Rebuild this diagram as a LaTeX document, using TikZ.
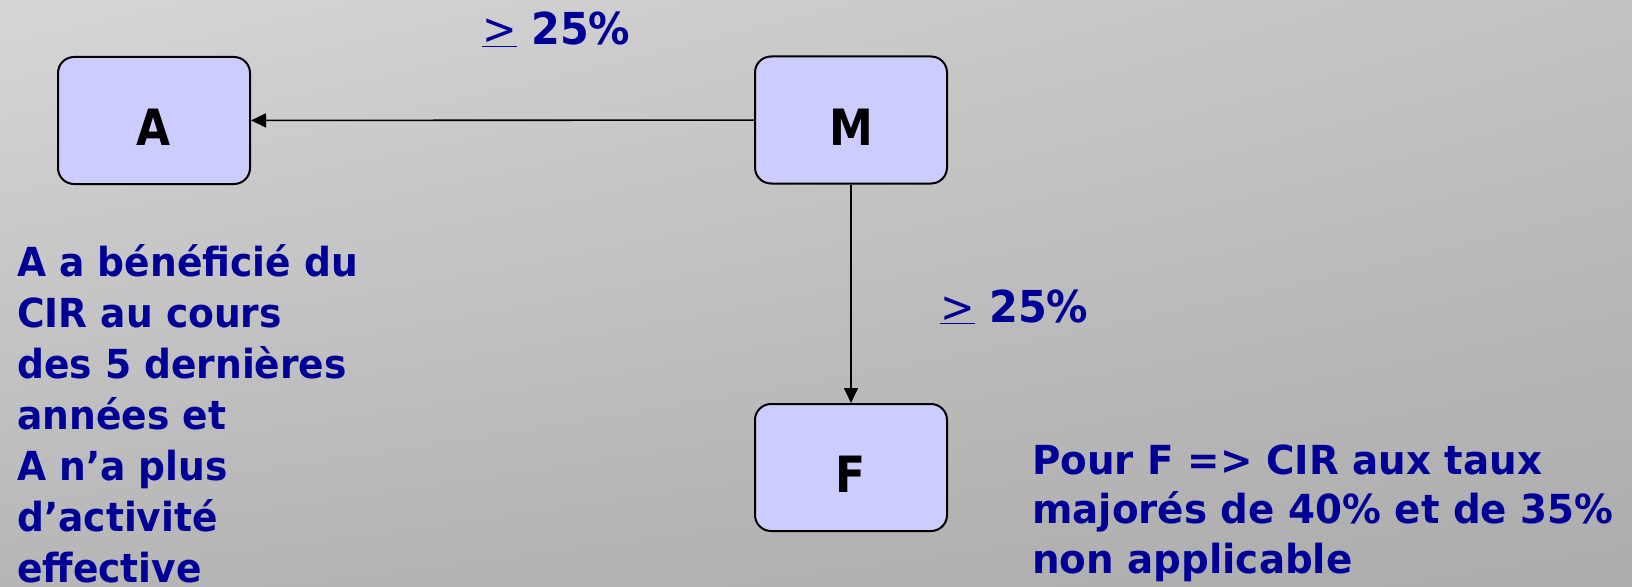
\documentclass[tikz,border=0pt]{standalone}
\usepackage{fontspec}
\usetikzlibrary{arrows.meta,shadings}
\newfontfamily\lblfont{DejaVu Sans Bold}[FakeStretch=0.94]
\newfontfamily\notefont{DejaVu Sans Bold}[FakeStretch=0.97]
\newfontfamily\boxfont{DejaVu Sans Bold}[FakeStretch=0.88]
\newfontfamily\symfont{DejaVu Sans}[FakeStretch=0.94]
\definecolor{txtblue}{RGB}{0,0,150}
\definecolor{boxfill}{RGB}{204,204,255}
\definecolor{bgUL}{RGB}{214,214,214}
\definecolor{bgUR}{RGB}{194,194,194}
\definecolor{bgLL}{RGB}{182,182,182}
\definecolor{bgLR}{RGB}{172,172,172}
\tikzset{
  entity/.style={draw=black, line width=2pt, fill=boxfill, rounded corners=16pt,
    minimum width=192pt, minimum height=127pt, inner sep=0pt,
    font=\boxfont\fontsize{50}{50}\selectfont, text=black,
    text height=50pt, text depth=0pt},
  link/.style={line width=1.6pt, -{Triangle[length=15pt,width=14pt]}},
  pct/.style={text=txtblue, inner sep=0pt, anchor=base west,
    font=\lblfont\fontsize{44}{44}\selectfont},
  note/.style={text=txtblue, inner sep=0pt, align=left, anchor=base west,
    font=\notefont\fontsize{40}{51}\selectfont}
}
\newcommand{\geqmark}{{\symfont\underline{>}}}
\begin{document}
\begin{tikzpicture}[x=1pt,y=-1pt]
\useasboundingbox (0,0) rectangle (1632,586);
\shade[upper left=bgUL, upper right=bgUR, lower left=bgLL, lower right=bgLR] (0,0) rectangle (1632,586);
\node[entity] (A) at (154,120.5) {A};
\node[entity] (M) at (851,120) {M};
\node[entity] (F) at (851,467.5) {F};
\draw[link] (M) -- (A);
\draw[link] (M) -- (F);
\node[pct] (p1) at (482,45) {\geqmark\ 25\%};
\node[pct] (p2) at (940,322) {\geqmark\ 25\%};
\node[note, font=\lblfont\fontsize{40}{51}\selectfont] (na) at (17,582) {A a bénéficié du\\CIR au cours\\des 5 dernières\\années et\\A n’a plus\\d’activité\\effective};
\node[note, font=\notefont\fontsize{40}{49.5}\selectfont] (nf) at (1032,573) {Pour F => CIR aux taux\\majorés de 40\% et de 35\%\\non applicable};
\end{tikzpicture}
\end{document}
